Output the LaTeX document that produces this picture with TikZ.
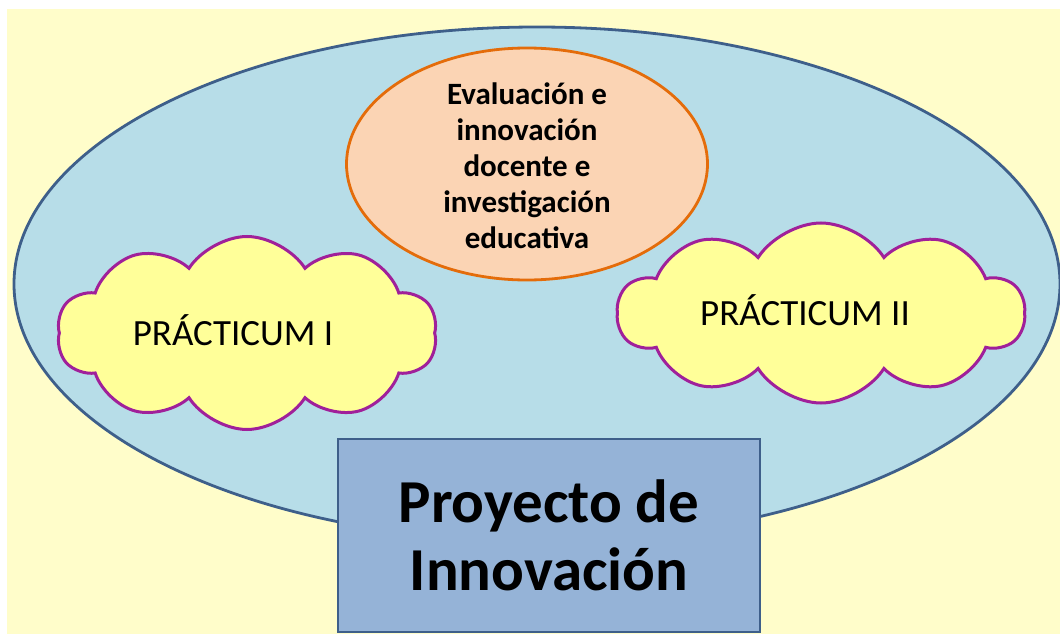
\documentclass[tikz,border=0pt]{standalone}
\usepackage{fontspec}
\setmainfont{Carlito}
\usetikzlibrary{shapes.geometric,shapes.symbols}

\definecolor{fondo}{HTML}{FFFDCA}
\definecolor{azulclaro}{HTML}{B7DDE8}
\definecolor{azulborde}{HTML}{3E5F8A}
\definecolor{naranja}{HTML}{FBD4B4}
\definecolor{naranjaborde}{HTML}{E46C0A}
\definecolor{nube}{HTML}{FFFF99}
\definecolor{nubeborde}{HTML}{A0209A}
\definecolor{caja}{HTML}{95B3D7}

\tikzset{
	nubes/.style={cloud, cloud puffs=10, cloud puff arc=115, cloud ignores aspect,
		draw=nubeborde, line width=3pt, fill=nube, inner sep=0pt},
	texto/.style={align=center, inner sep=0pt}
}

\begin{document}
\begin{tikzpicture}[x=1pt, y=-1pt]
		% Fondo
		\useasboundingbox (0,0) rectangle (1060,634);
		\fill[fondo] (7,9) rectangle (1060,634);
		
		% Elipse grande
		\node[ellipse, draw=azulborde, line width=2.8pt, fill=azulclaro,
			minimum width=1046pt, minimum height=514pt] (marco) at (537,284) {};
		
		% Elipse naranja
		\node[ellipse, draw=naranjaborde, line width=2.8pt, fill=naranja,
			minimum width=361pt, minimum height=232pt] (evaluacion) at (527,164) {};
		\node[texto, font=\bfseries\fontsize{31}{36}\selectfont] (evaluaciontxt) at ([yshift=-2pt]evaluacion.center)
			{Evaluación e\\innovación\\docente e\\investigación\\educativa};
		
		% Nubes
		\node[nubes, minimum width=380pt, minimum height=193pt] (practicumI) at (247,333) {};
		\node[texto, font=\fontsize{37}{40}\selectfont] (practicumItxt) at ([xshift=-14pt,yshift=3pt]practicumI.center) {PRÁCTICUM I};
		\node[nubes, minimum width=407pt, minimum height=180pt] (practicumII) at (821,313) {};
		\node[texto, font=\fontsize{37}{40}\selectfont] (practicumIItxt) at ([xshift=-16pt,yshift=3pt]practicumII.center) {PRÁCTICUM II};
		
		% Caja
		\node[draw=azulborde, line width=2.8pt, fill=caja, minimum width=422pt, minimum height=193pt,
			align=center, font=\bfseries\fontsize{61}{68}\selectfont] (proyecto) at (549,535.5)
			{Proyecto de\\Innovación};
\end{tikzpicture}
\end{document}
